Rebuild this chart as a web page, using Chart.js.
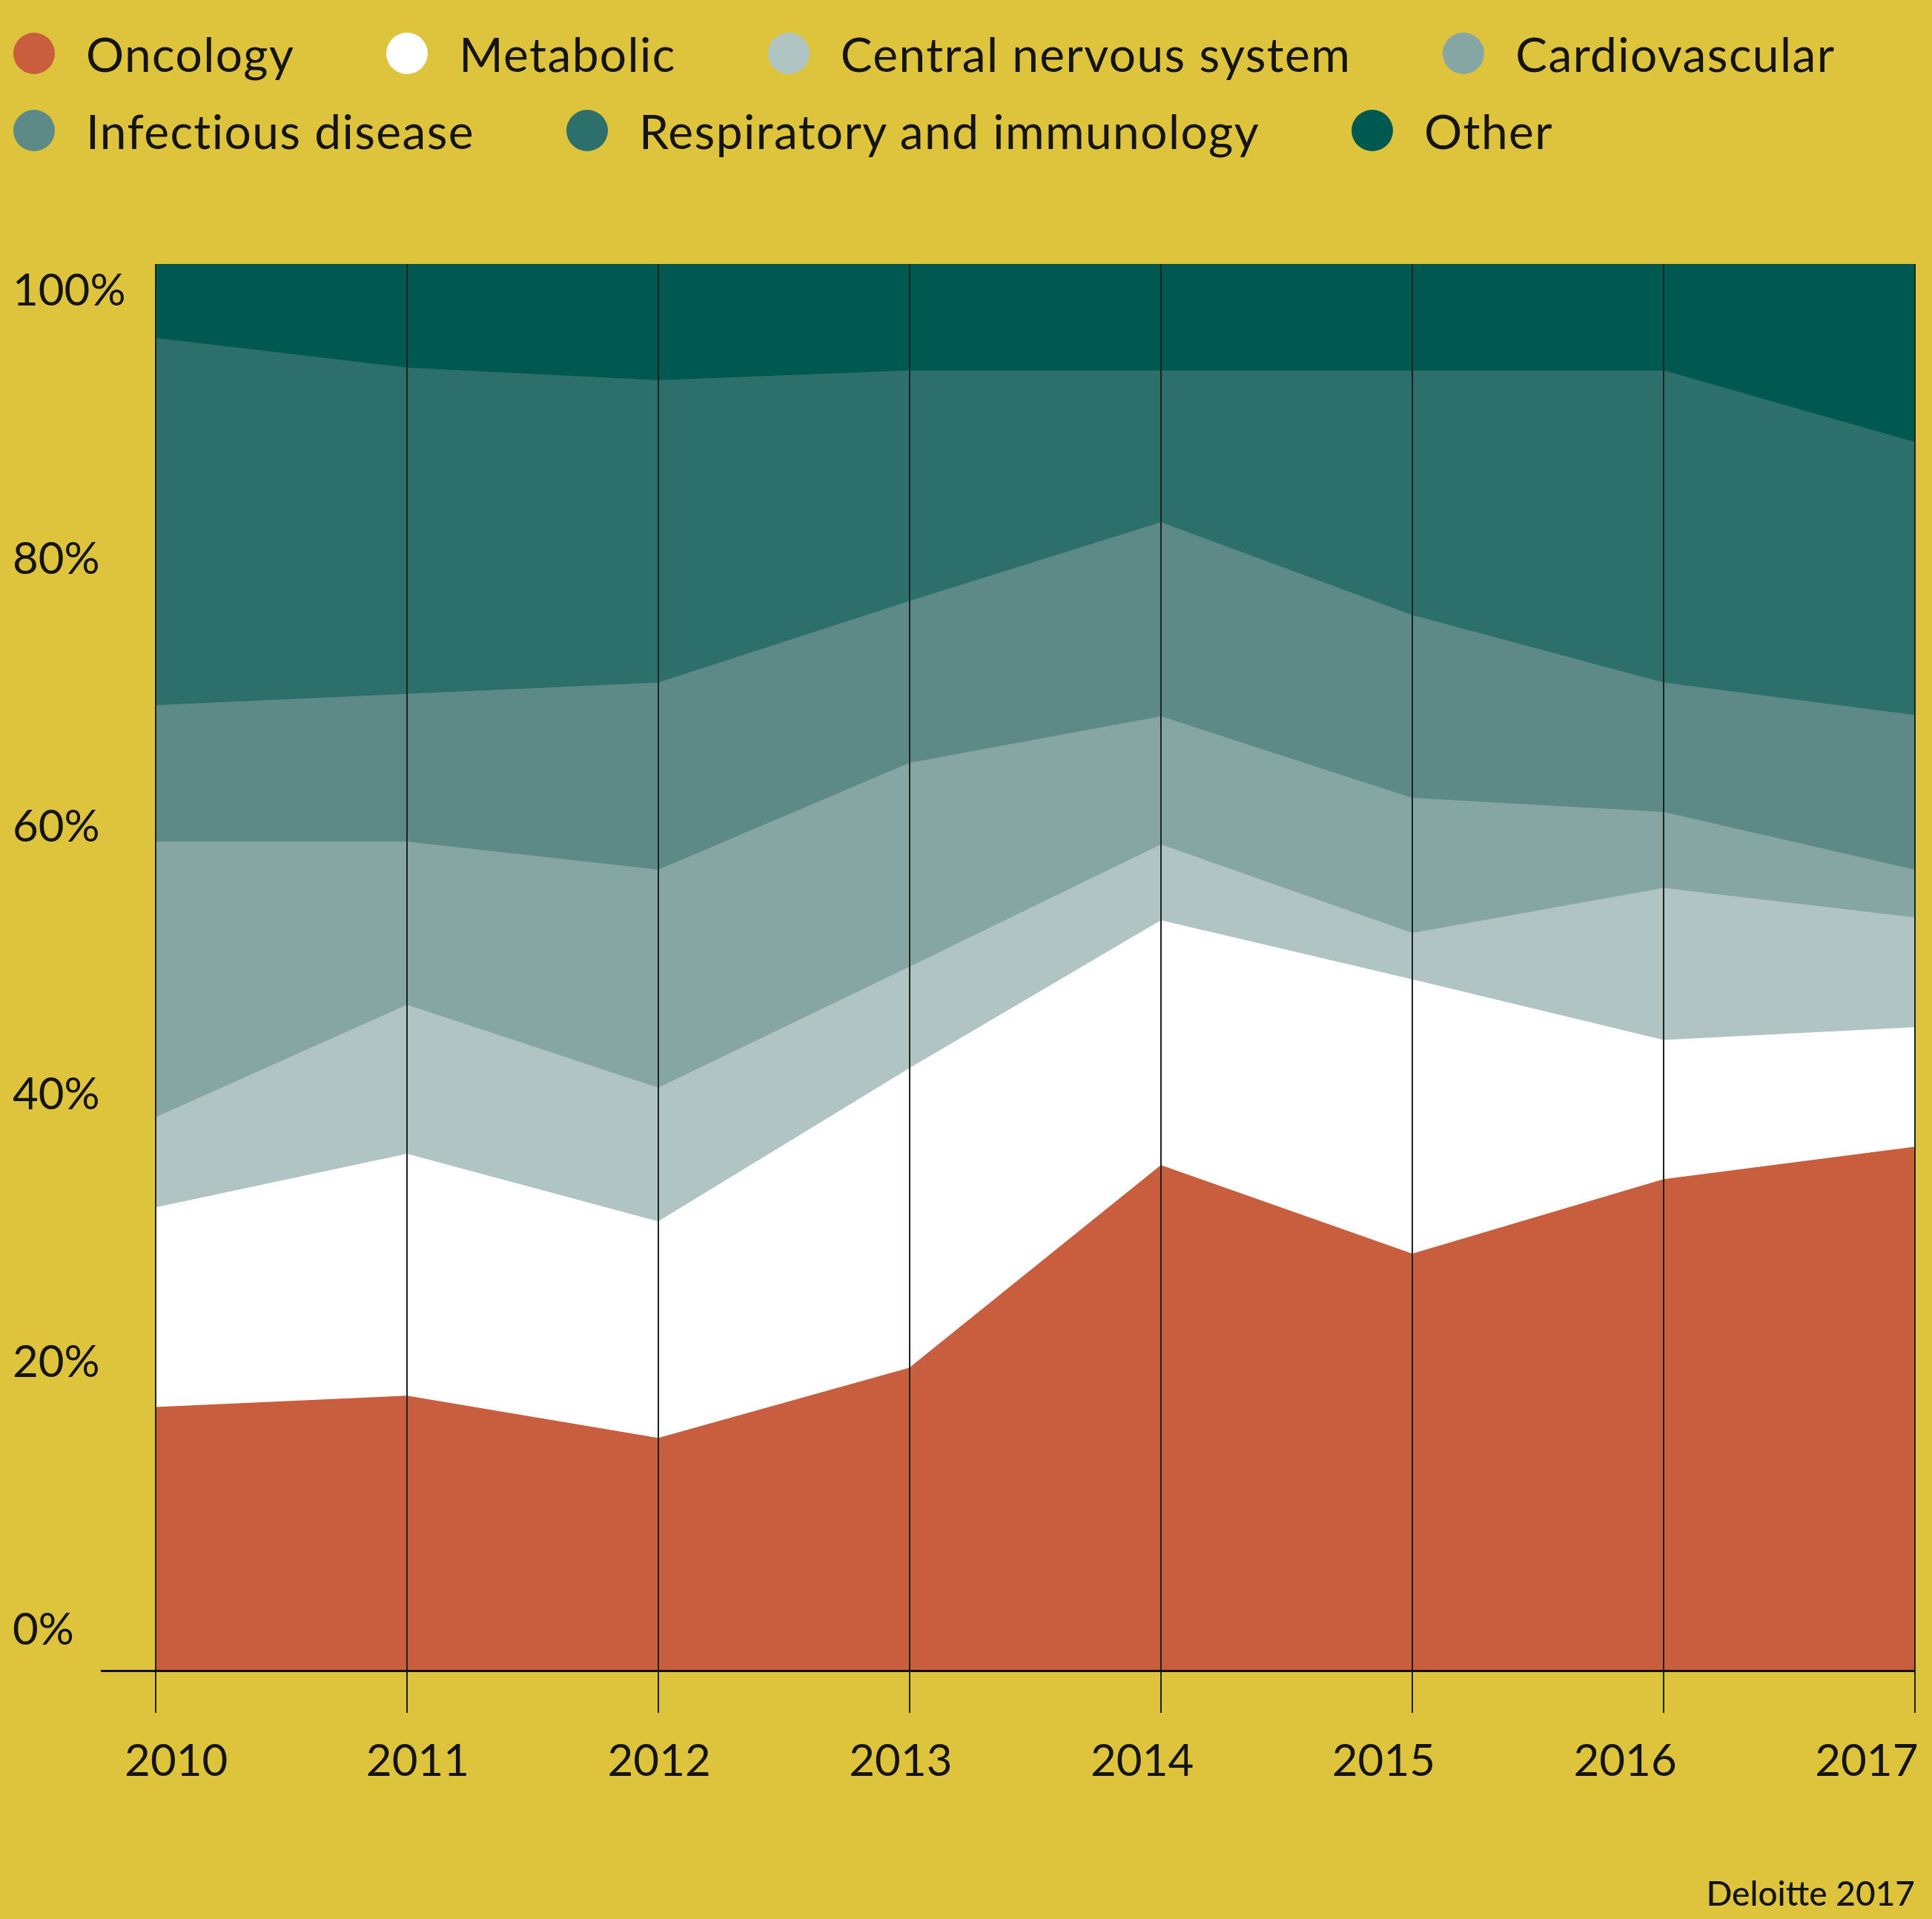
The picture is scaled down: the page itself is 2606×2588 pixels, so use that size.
<!DOCTYPE html>
<html>
<head>
<meta charset="utf-8">
<title>Share by therapeutic area</title>
<script src="https://cdn.jsdelivr.net/npm/chart.js@4.4.1/dist/chart.umd.min.js"></script>
<style>
  body { margin: 0; background: #dec43c; }
  #wrap { position: relative; width: 2606px; height: 2588px; overflow: hidden; background: #dec43c; }
  canvas { position: absolute; left: 0; top: 0; }
  #legend { position: absolute; left: 18px; top: 39px; font: 64px Lato, sans-serif; letter-spacing: 1.4px; color: #141414; z-index: 2; }
  .row { display: flex; align-items: center; height: 66px; margin-bottom: 38px; white-space: nowrap; }
  .item { display: flex; align-items: center; margin-right: 124px; }
  .dot { width: 56px; height: 56px; border-radius: 50%; margin-right: 42px; }
</style>
</head>
<body>
<div id="wrap">
  <canvas id="chart" width="2606" height="2588"></canvas>
  <div id="legend"></div>
</div>
<script>
// data (share of each area, %)
const years = [2010, 2011, 2012, 2013, 2014, 2015, 2016, 2017];
const areaNames = ['Oncology', 'Metabolic', 'Central nervous system', 'Cardiovascular',
                   'Infectious disease', 'Respiratory and immunology', 'Other'];
const areaColors = ['#c85e3e', '#ffffff', '#b0c4c3', '#86a6a3', '#5d8986', '#2d6f6b', '#005950'];

const oncology    = [18.7, 19.5, 16.5, 21.5, 35.9, 29.6, 34.9, 37.2];
const metabolic   = [14.2, 17.2, 15.4, 21.3, 17.4, 19.5,  9.9,  8.5];
const cns         = [ 6.4, 10.6,  9.5,  7.2,  5.4,  3.3, 10.8,  7.8];
const cardio      = [19.6, 11.6, 15.5, 14.5,  9.1,  9.6,  5.4,  3.4];
const infectious  = [ 9.7, 10.5, 13.3, 11.5, 13.8, 13.0,  9.2, 11.0];
const respiratory = [26.1, 23.2, 21.5, 16.4, 10.8, 17.4, 22.2, 19.4];
const other       = [ 5.3,  7.4,  8.3,  7.6,  7.6,  7.6,  7.6, 12.7];

const yTicks = [0, 20, 40, 60, 80, 100];
const legendRows = [4, 3]; // legend items per line
const source = 'Deloitte 2017';

const allSeries = [oncology, metabolic, cns, cardio, infectious, respiratory, other];
const font = { family: 'Lato, sans-serif', size: 60 };
const ink = '#141414';

// legend
const legendEl = document.getElementById('legend');
let k = 0;
legendRows.forEach(n => {
    const row = document.createElement('div');
    row.className = 'row';
    for (let i = 0; i < n; i++, k++) {
        const item = document.createElement('div');
        item.className = 'item';
        item.innerHTML = `<span class="dot" style="background:${areaColors[k]}"></span><span>${areaNames[k]}</span>`;
        row.appendChild(item);
    }
    legendEl.appendChild(row);
});

const datasets = allSeries.map((values, i) => ({
    label: areaNames[i],
    data: values,
    xAxisID: 'x',
    yAxisID: 'y',
    backgroundColor: areaColors[i],
    borderColor: areaColors[i],
    borderWidth: 1.5,
    pointRadius: 0,
    tension: 0,
    fill: i === 0 ? 'origin' : '-1'
}));

new Chart(document.getElementById('chart'), {
    type: 'line',
    data: { labels: years.map(String), datasets: datasets },
    options: {
        responsive: false,
        animation: false,
        events: [],
        layout: { padding: { top: 356, left: 17, right: 23, bottom: 0 } },
        plugins: {
            legend: { display: false },
            tooltip: { enabled: false },
            title: {
                display: true,
                text: source,
                position: 'bottom',
                align: 'end',
                color: ink,
                font: { family: 'Lato, sans-serif', size: 46, weight: '500', lineHeight: 1.2 },
                padding: { top: 0, bottom: 5 }
            }
        },
        scales: {
            x: {
                type: 'category',
                offset: false,
                z: 1,
                grid: { z: 1, color: '#1c2422', lineWidth: 2, tickLength: 57, drawTicks: true },
                border: { display: false },
                ticks: { display: false },
                afterFit: s => { s.height = 57; }
            },
            xLabels: {
                type: 'linear',
                position: 'bottom',
                weight: 1,
                min: 2009.915,
                max: 2017.2,
                grid: { display: false, drawTicks: false },
                border: { display: false },
                afterBuildTicks: s => { s.ticks = years.map(v => ({ value: v })); },
                ticks: { callback: v => String(v), font: font, color: ink, padding: 30, maxRotation: 0, autoSkip: false },
                afterFit: s => { s.height = 2588 - 2253 - 57 - 46 * 1.2 - 5; s.paddingLeft = 0; s.paddingRight = 0; }
            },
            y: {
                stacked: true,
                min: 0,
                max: 100,
                z: 1,
                grid: {
                    z: 1,
                    color: c => (c.tick && c.tick.value === 0) ? '#111111' : 'rgba(0,0,0,0)',
                    lineWidth: 3,
                    tickLength: 74
                },
                border: { display: false },
                ticks: { display: false, stepSize: 20 },
                afterFit: s => { s.width = 0; }
            },
            yLabels: {
                type: 'linear',
                position: 'left',
                weight: 1,
                min: -2.99,
                max: 102.05,
                grid: { display: false, drawTicks: false },
                border: { display: false },
                afterBuildTicks: s => { s.ticks = yTicks.map(v => ({ value: v })); },
                ticks: { callback: v => v + '%', font: font, color: ink, crossAlign: 'far', padding: 0, autoSkip: false },
                afterFit: s => { s.width = 193; s.paddingTop = 0; s.paddingBottom = 0; }
            }
        }
    }
});
</script>
</body>
</html>
